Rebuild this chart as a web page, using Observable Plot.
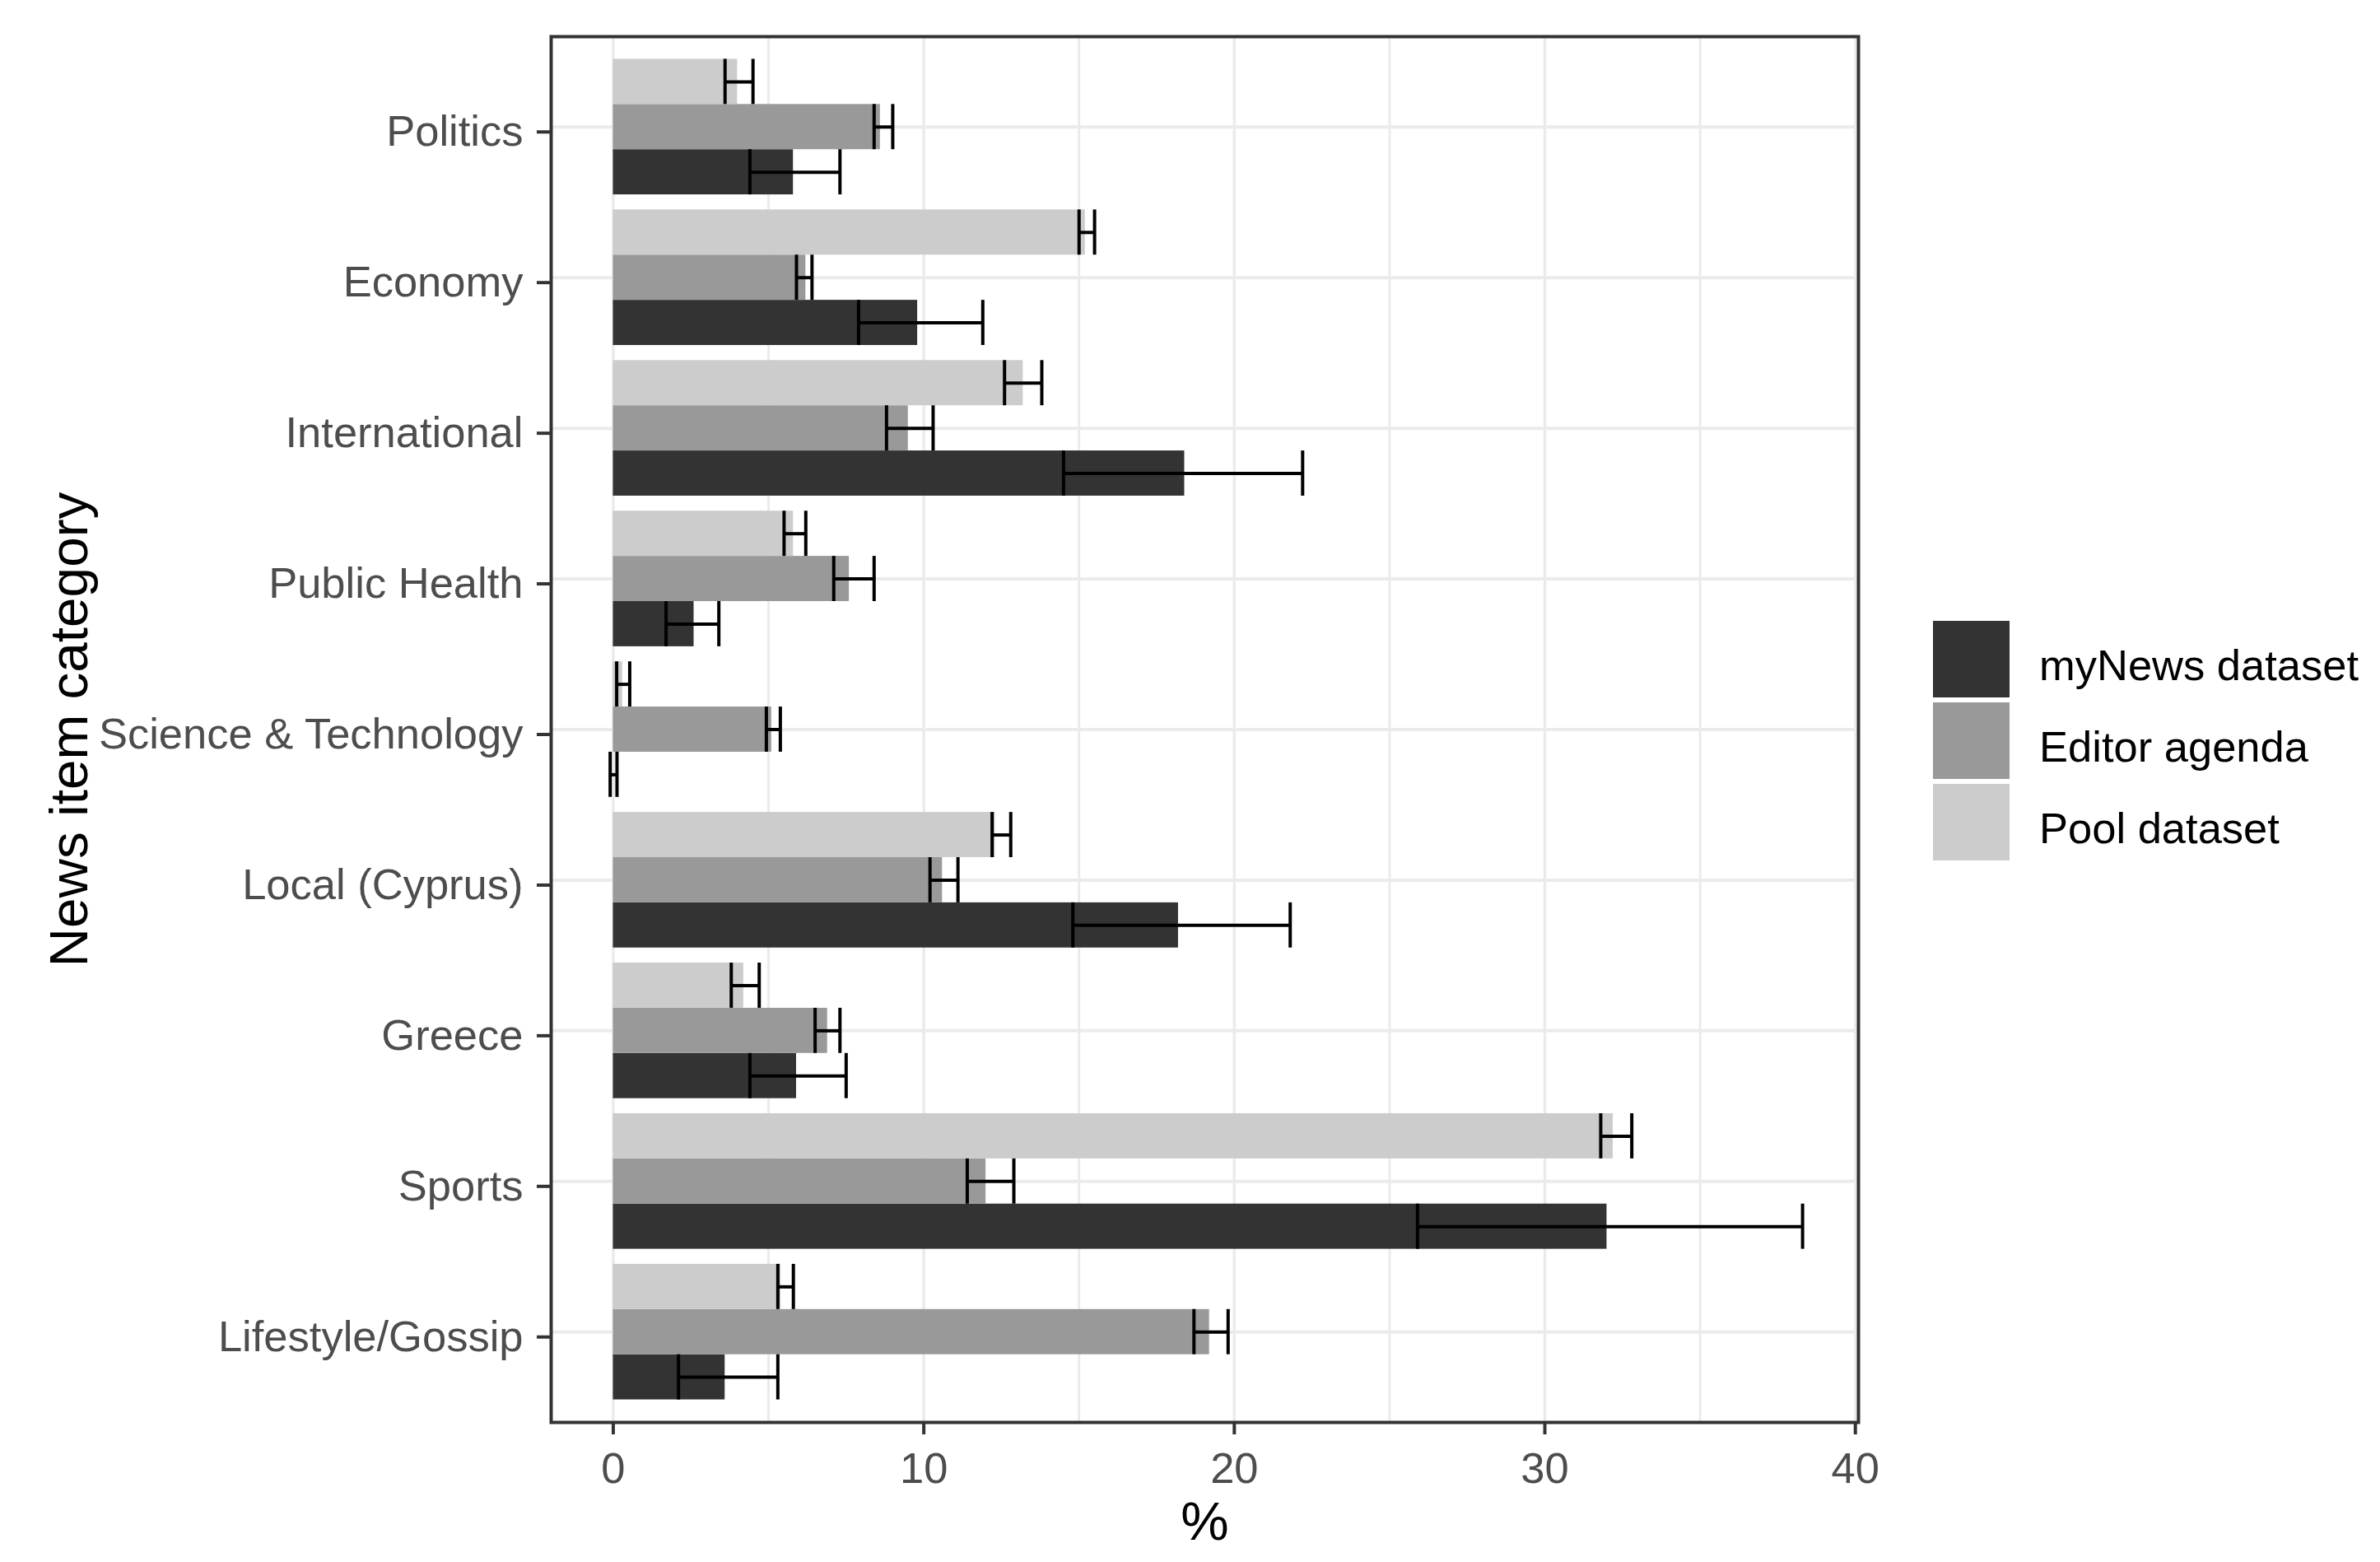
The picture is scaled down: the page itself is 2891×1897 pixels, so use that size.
<!DOCTYPE html>
<html>
<head>
<meta charset="utf-8">
<script src="https://cdn.jsdelivr.net/npm/d3@7"></script>
<script src="https://cdn.jsdelivr.net/npm/@observablehq/plot@0.6"></script>
<style>
  html, body { margin: 0; padding: 0; background: #ffffff; }
  #wrap { position: relative; width: 2891px; height: 1897px; font-family: "Liberation Sans", Arial, sans-serif; }
  #legend { position: absolute; left: 2348px; top: 754px; }
  .item { display: flex; align-items: center; height: 93px; margin-bottom: 6px; }
  .sw { width: 93px; height: 93px; }
  .lab { margin-left: 36px; font-size: 52.5px; color: #000; padding-top: 14px; white-space: nowrap; }
</style>
</head>
<body>
<div id="wrap"></div>
<script>
// ---- data ----
const categories = ["Politics", "Economy", "International", "Public Health", "Science & Technology",
                    "Local (Cyprus)", "Greece", "Sports", "Lifestyle/Gossip"];
const seriesNames = ["myNews dataset", "Editor agenda", "Pool dataset"];

const myNews     = [5.8, 9.8, 18.4, 2.6, 0.0, 18.2, 5.9, 32.0, 3.6];
const myNewsLow  = [4.4, 7.9, 14.5, 1.7, -0.1, 14.8, 4.4, 25.9, 2.1];
const myNewsHigh = [7.3, 11.9, 22.2, 3.4, 0.12, 21.8, 7.5, 38.3, 5.3];

const editor     = [8.6, 6.2, 9.5, 7.6, 5.1, 10.6, 6.9, 12.0, 19.2];
const editorLow  = [8.4, 5.9, 8.8, 7.1, 4.93, 10.2, 6.5, 11.4, 18.7];
const editorHigh = [9.0, 6.4, 10.3, 8.4, 5.38, 11.1, 7.3, 12.9, 19.8];

const pool       = [4.0, 15.2, 13.2, 5.8, 0.3, 12.3, 4.2, 32.2, 5.4];
const poolLow    = [3.6, 15.0, 12.6, 5.5, 0.11, 12.2, 3.8, 31.8, 5.3];
const poolHigh   = [4.5, 15.5, 13.8, 6.2, 0.53, 12.8, 4.7, 32.8, 5.8];

const xTicks = [0, 10, 20, 30, 40];
const xMinor = [5, 15, 25, 35];
const xLabel = "%";
const yLabel = "News item category";

// ---- table built from the arrays ----
const values = [myNews, editor, pool];
const lows = [myNewsLow, editorLow, poolLow];
const highs = [myNewsHigh, editorHigh, poolHigh];
const colors = ["#333333", "#999999", "#CCCCCC"];
const dodge = {"myNews dataset": 0.3, "Editor agenda": 0, "Pool dataset": -0.3};
const half = 0.15;

const rows = [];
seriesNames.forEach((s, si) => categories.forEach((c, ci) => rows.push({
  category: c, series: s, ci, value: values[si][ci], low: lows[si][ci], high: highs[si][ci]
})));
const pos = d => d.ci + 1 + dodge[d.series];
const catPos = categories.map((c, i) => i + 1);

const font = "'Liberation Sans', Arial, sans-serif";

const plot = Plot.plot({
  width: 2891,
  height: 1897,
  marginLeft: 669,
  marginRight: 634,
  marginTop: 44,
  marginBottom: 170,
  style: {fontFamily: font, background: "#ffffff"},
  x: {domain: [-2.0, 40.1]},
  y: {domain: [0.4, 9.6], reverse: true},
  color: {domain: seriesNames, range: colors},
  marks: [
    Plot.ruleX(xMinor, {stroke: "#EBEBEB", strokeWidth: 3}),
    Plot.ruleX(xTicks, {stroke: "#EBEBEB", strokeWidth: 3.5}),
    Plot.ruleY(catPos, {stroke: "#EBEBEB", strokeWidth: 4}),
    Plot.rect(rows, {x1: () => 0, x2: "value", y1: d => pos(d) - half, y2: d => pos(d) + half, fill: "series"}),
    Plot.ruleY(rows, {y: pos, x1: "low", x2: "high", stroke: "#000", strokeWidth: 4}),
    Plot.ruleX(rows, {x: "low", y1: d => pos(d) - half, y2: d => pos(d) + half, stroke: "#000", strokeWidth: 4}),
    Plot.ruleX(rows, {x: "high", y1: d => pos(d) - half, y2: d => pos(d) + half, stroke: "#000", strokeWidth: 4}),
    Plot.frame({stroke: "#333333", strokeWidth: 4}),
    Plot.axisX({ticks: xTicks, tickSize: 15, tickPadding: 21, fontSize: 52.5, color: "#4D4D4D", stroke: "#333333", strokeWidth: 4, label: null}),
    Plot.axisY({ticks: catPos, tickFormat: i => categories[i - 1], tickSize: 17, tickPadding: 17, fontSize: 52.5, color: "#4D4D4D", stroke: "#333333", strokeWidth: 4, label: null, dy: 6}),
    Plot.text([xLabel], {text: d => d, frameAnchor: "bottom", dy: 142, fontSize: 65.7, fill: "#000"}),
    Plot.text([yLabel], {text: d => d, frameAnchor: "left", textAnchor: "middle", dx: -585, rotate: -90, fontSize: 65.7, fill: "#000"})
  ]
});

const wrap = document.getElementById("wrap");
wrap.appendChild(plot);

const legend = document.createElement("div");
legend.id = "legend";
seriesNames.forEach((s, i) => {
  const item = document.createElement("div");
  item.className = "item";
  const sw = document.createElement("div");
  sw.className = "sw";
  sw.style.background = colors[i];
  const lab = document.createElement("span");
  lab.className = "lab";
  lab.textContent = s;
  item.appendChild(sw);
  item.appendChild(lab);
  legend.appendChild(item);
});
wrap.appendChild(legend);
</script>
</body>
</html>
